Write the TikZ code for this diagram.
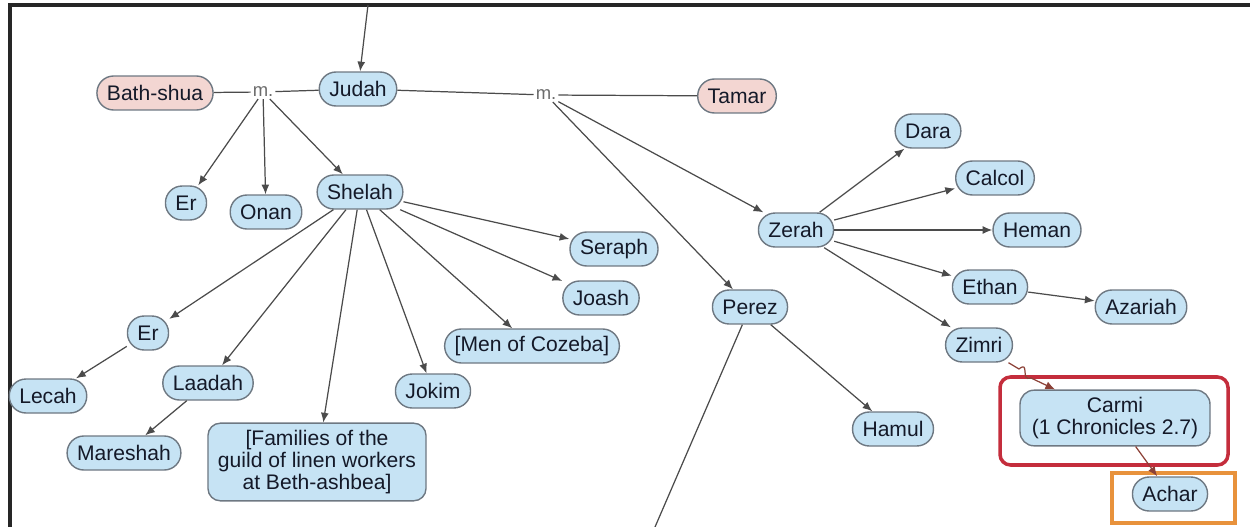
\documentclass[tikz,border=0pt]{standalone}
\usepackage{fontspec}
\setmainfont{Liberation Sans}
\usepackage{tikz}
\usepackage{xcolor}
\usetikzlibrary{arrows.meta, positioning, shapes}

\definecolor{kinblue}{RGB}{198,227,244}
\definecolor{kinpink}{RGB}{243,214,210}
\definecolor{kinedge}{RGB}{110,120,130}
\definecolor{kintext}{RGB}{20,25,40}
\definecolor{kinline}{RGB}{75,75,75}
\definecolor{kinbrown}{RGB}{140,65,55}
\definecolor{kinred}{RGB}{196,45,60}
\definecolor{kinorange}{RGB}{232,146,60}

\begin{document}
\begin{tikzpicture}[x=0.02cm, y=-0.02cm,
    person/.style={draw=kinedge, fill=kinblue, rounded corners=9.5pt, line width=0.8pt,
        minimum height=0.68cm, inner xsep=0.2cm, inner ysep=4pt, text=kintext, align=center,
        font=\fontsize{12}{12.5}\selectfont},
    wife/.style={person, fill=kinpink},
    wed/.style={inner sep=1pt, text=gray!85!black, font=\fontsize{10.5}{11}\selectfont},
    tie/.style={draw=kinline, line width=0.7pt},
    arr/.style={tie, -{Latex[length=5.5pt,width=4.5pt]}}]
        \useasboundingbox (0,0) rectangle (1250,527);
        \draw[black!85, line width=2pt] (10,527) -- (10,5) -- (1250,5);

        \draw[kinred, line width=2pt, rounded corners=6pt] (1000,377) rectangle (1228,465);
        \draw[kinorange, line width=1.8pt] (1112,473) rectangle (1235,523);

        \node[wife] (bath) at (155,93) {Bath-shua};
        \node[wed] (m1) at (263,92) {m.};
        \node[person] (judah) at (358,89) {Judah};
        \node[wed] (m2) at (546,95) {m.};
        \node[wife] (tamar) at (737,96) {Tamar};
        \coordinate (top) at (368,5);

        \node[person] (er) at (186,203) {Er};
        \node[person] (onan) at (266,212) {Onan};
        \node[person] (shelah) at (360,192) {Shelah};
        \node[person] (seraph) at (614,249) {Seraph};
        \node[person] (joash) at (601,298) {Joash};
        \node[person] (cozeba) at (532,346) {[Men of Cozeba]};
        \node[person] (jokim) at (433,391) {Jokim};
        \node[person, rounded corners=7pt] (guild) at (317,462) {[Families of the\\guild of linen workers\\at Beth-ashbea]};
        \node[person] (er2) at (148,333) {Er};
        \node[person] (lecah) at (48,396) {Lecah};
        \node[person] (laadah) at (208,383) {Laadah};
        \node[person] (mareshah) at (124,453) {Mareshah};

        \node[person] (zerah) at (796,230) {Zerah};
        \node[person] (dara) at (928,131) {Dara};
        \node[person] (calcol) at (995,178) {Calcol};
        \node[person] (heman) at (1037,230) {Heman};
        \node[person] (ethan) at (990,287) {Ethan};
        \node[person] (azariah) at (1141,307) {Azariah};
        \node[person] (zimri) at (979,345) {Zimri};
        \node[person, rounded corners=8pt, minimum width=3.8cm, minimum height=1.08cm] (carmi) at (1115,418) {Carmi\\(1 Chronicles 2.7)};
        \node[person] (achar) at (1170,494) {Achar};

        \node[person] (perez) at (750,307) {Perez};
        \node[person] (hamul) at (893,429) {Hamul};
        \coordinate (down) at (655,527);

        \foreach \from/\dest in
        {bath/m1,m1/judah,judah/m2,m2/tamar,perez/down} \draw[tie] (\from)--(\dest);
        \foreach \from/\dest in
        {top/judah,m1/er,m1/onan,m1/shelah,m2/zerah,m2/perez,shelah/seraph,shelah/joash,shelah/cozeba,shelah/jokim,shelah/guild,shelah/laadah,shelah/er2,er2/lecah,laadah/mareshah,zerah/dara,zerah/calcol,zerah/heman,zerah/ethan,zerah/zimri,ethan/azariah,perez/hamul} \draw[arr] (\from)--(\dest);

        \coordinate (qa) at (1019,369);
        \coordinate (qb) at (1031,378);
        \draw[tie, draw=kinbrown] (zimri) -- (qa) .. controls (1030,360) and (1020,382) .. (qb);
        \draw[arr, draw=kinbrown] (qb) -- (carmi);
        \draw[arr, draw=kinbrown] (carmi) -- (achar);
\end{tikzpicture}
\end{document}
